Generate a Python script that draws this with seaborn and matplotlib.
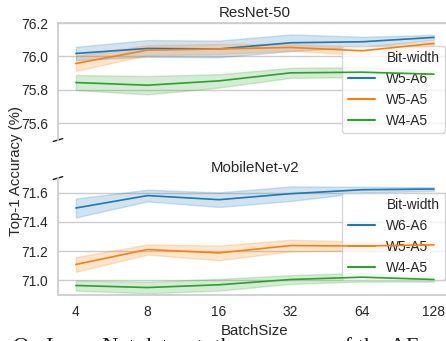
import matplotlib
matplotlib.use("Agg")
import matplotlib.pyplot as plt
import pandas as pd
import seaborn as sns
from matplotlib.lines import Line2D

batch = [4, 8, 16, 32, 64, 128]

# ResNet-50: mean accuracy and half-width of the shaded band
r50_names = ["W5-A6", "W5-A5", "W4-A5"]
r50_mean = [
    [76.018, 76.048, 76.045, 76.082, 76.088, 76.114],
    [75.958, 76.038, 76.045, 76.054, 76.034, 76.078],
    [75.844, 75.828, 75.854, 75.902, 75.906, 75.894],
]
r50_band = [
    [0.040, 0.050, 0.050, 0.050, 0.030, 0.015],
    [0.045, 0.030, 0.030, 0.020, 0.025, 0.012],
    [0.045, 0.055, 0.040, 0.030, 0.030, 0.020],
]

# MobileNet-v2
mbv2_names = ["W6-A6", "W5-A5", "W4-A5"]
mbv2_mean = [
    [71.495, 71.580, 71.552, 71.593, 71.620, 71.625],
    [71.109, 71.211, 71.188, 71.238, 71.235, 71.243],
    [70.965, 70.951, 70.970, 71.006, 71.022, 71.006],
]
mbv2_band = [
    [0.065, 0.040, 0.050, 0.050, 0.020, 0.012],
    [0.050, 0.035, 0.050, 0.040, 0.030, 0.015],
    [0.035, 0.040, 0.040, 0.030, 0.030, 0.015],
]


def to_frame(names, means, bands):
    rows = []
    for name, m, b in zip(names, means, bands):
        for x, v, d in zip(batch, m, b):
            for s in (v - d, v, v + d):
                rows.append({"BatchSize": x, "acc": s, "Bit-width": name})
    return pd.DataFrame(rows)


sns.set_theme(style="whitegrid", context="notebook", font_scale=0.9)
plt.rcParams["font.family"] = ["Liberation Sans", "DejaVu Sans"]

fig = plt.figure(figsize=(4.46, 3.41), dpi=100)
ax_top = fig.add_axes([0.130, 0.5894, 0.883, 0.343])
ax_bot = fig.add_axes([0.130, 0.1349, 0.883, 0.343], sharex=ax_top)
palette = sns.color_palette("tab10", 3)

panels = [
    (ax_top, "ResNet-50", r50_names, r50_mean, r50_band, (75.5, 76.2),
     [75.6, 75.8, 76.0, 76.2], "lower right"),
    (ax_bot, "MobileNet-v2", mbv2_names, mbv2_mean, mbv2_band, (70.9, 71.7),
     [71.0, 71.2, 71.4, 71.6], "center right"),
]

for ax, title, names, means, bands, ylim, yticks, loc in panels:
    df = to_frame(names, means, bands)
    sns.lineplot(data=df, x="BatchSize", y="acc", hue="Bit-width",
                 palette=palette, estimator="median", errorbar=("pi", 100),
                 linewidth=1.2, ax=ax, legend=False)
    ax.set_xscale("log", base=2)
    ax.set_ylim(*ylim)
    ax.set_yticks(yticks)
    ax.set_yticklabels([f"{t:.1f}" for t in yticks])
    ax.set_title(title, pad=4)
    ax.set_ylabel("")
    ax.grid(axis="x", visible=False)
    ax.tick_params(axis="both", length=0, pad=7)
    handles = [Line2D([], [], alpha=0)] + [
        Line2D([], [], color=c, linewidth=1.5) for c in palette]
    leg = ax.legend(handles, ["Bit-width"] + names, loc=loc,
                    framealpha=0.8, edgecolor="0.8")
    leg.set_zorder(1.5)

ax_top.spines["bottom"].set_visible(False)
ax_top.tick_params(labelbottom=False)
ax_top.set_xlabel("")
ax_bot.spines["top"].set_visible(False)
ax_bot.set_xticks(batch)
ax_bot.set_xticklabels([str(b) for b in batch])
ax_bot.minorticks_off()
ax_bot.set_xlabel("BatchSize", labelpad=4)

# broken-axis marks
d = 0.012
kw = dict(color="k", clip_on=False, linewidth=1)
ax_top.plot((-d, d), (-d, d), transform=ax_top.transAxes, **kw)
ax_bot.plot((-d, d), (1 - d, 1 + d), transform=ax_bot.transAxes, **kw)

fig.text(0.036, 0.5, "Top-1 Accuracy (%)", rotation=90, va="center",
         ha="center", fontsize=10.8, color="0.15")

# caption of the source document, cut by the bottom edge
fig.text(0.029, -0.032, "On ImageNet dataset, the accuracy of the AE",
         fontsize=16.2, family=["Liberation Serif"], va="baseline", color="k")

fig.savefig("out.png", dpi=100)
